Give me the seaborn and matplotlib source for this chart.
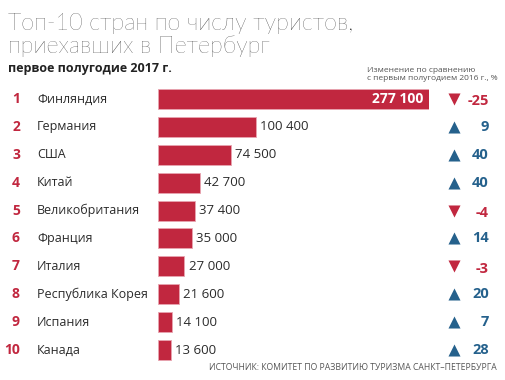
import matplotlib
matplotlib.use("Agg")
import matplotlib.pyplot as plt
import matplotlib.transforms as mtransforms
import pandas as pd
import seaborn as sns

countries = ["Финляндия", "Германия", "США", "Китай", "Великобритания",
             "Франция", "Италия", "Республика Корея", "Испания", "Канада"]
tourists = [277100, 100400, 74500, 42700, 37400, 35000, 27000, 21600, 14100, 13600]
change = [-25, 9, 40, 40, -4, 14, -3, 20, 7, 28]
ranks = list(range(1, 11))

RED = "#c1273f"
BLUE = "#25618c"
DARK = "#2b2b2b"
GRAY = "#555555"

sns.set_style("white")
plt.rcParams["font.family"] = ["Open Sans", "DejaVu Sans"]

W, H = 505, 380
fig = plt.figure(figsize=(W / 100, H / 100), dpi=100)
ax = fig.add_axes([158 / W, 1 - 364 / H, 271 / W, 279 / H])

df = pd.DataFrame({"country": countries, "tourists": tourists})
sns.barplot(data=df, x="tourists", y="country", orient="h", color=RED,
            saturation=1, width=0.72, edgecolor="#e8a5b0", linewidth=0.6, ax=ax)
ax.set_xlim(0, max(tourists))
ax.set_ylim(9.5, -0.5)
ax.axis("off")

# x in figure pixels, y in data rows
row = mtransforms.blended_transform_factory(
    mtransforms.Affine2D().scale(1 / W, 1) + fig.transFigure, ax.transData)

for i, (r, c, v, d) in enumerate(zip(ranks, countries, tourists, change)):
    ax.text(20, i, str(r), transform=row, ha="right", va="center",
            color=RED, fontsize=10, fontweight="bold")
    ax.text(37, i, c, transform=row, ha="left", va="center",
            color=DARK, fontsize=9)
    label = f"{v:,}".replace(",", " ")
    if i == 0:
        ax.annotate(label, (v, i), xytext=(-4, 0), textcoords="offset points",
                    ha="right", va="center", color="white",
                    fontsize=10, fontweight="bold")
    else:
        ax.annotate(label, (v, i), xytext=(3, 0), textcoords="offset points",
                    ha="left", va="center", color=DARK, fontsize=9.5)
    col = RED if d < 0 else BLUE
    ax.scatter([454], [i], transform=row, marker="v" if d < 0 else "^",
               s=75, color=col, clip_on=False, linewidths=0)
    ax.text(489, i + (0.08 if d < 0 else 0), str(d), transform=row,
            ha="right", va="center", color=col, fontsize=10.5, fontweight="bold")

title_font = dict(fontsize=16.8, fontweight="light",
                  family=["Lato", "DejaVu Sans"], color="#111111")
fig.text(8 / W, 1 - 30 / H, "Топ-10 стран по числу туристов,",
         ha="left", va="baseline", **title_font)
fig.text(8 / W, 1 - 53 / H, "приехавших в Петербург",
         ha="left", va="baseline", **title_font)
fig.text(8 / W, 1 - 72 / H, "первое полугодие 2017 г.", ha="left",
         va="baseline", fontsize=9, fontweight="bold", color="#222222")
fig.text(367 / W, 1 - 72 / H, "Изменение по сравнению", ha="left",
         va="baseline", fontsize=6, color=GRAY)
fig.text(367 / W, 1 - 80 / H, "с первым полугодием 2016 г., %", ha="left",
         va="baseline", fontsize=6, color=GRAY)
fig.text(497 / W, 1 - 370 / H, "ИСТОЧНИК: КОМИТЕТ ПО РАЗВИТИЮ ТУРИЗМА САНКТ–ПЕТЕРБУРГА",
         ha="right", va="baseline", fontsize=6.2, color=GRAY)

fig.savefig("out.png", dpi=100, facecolor="white")
